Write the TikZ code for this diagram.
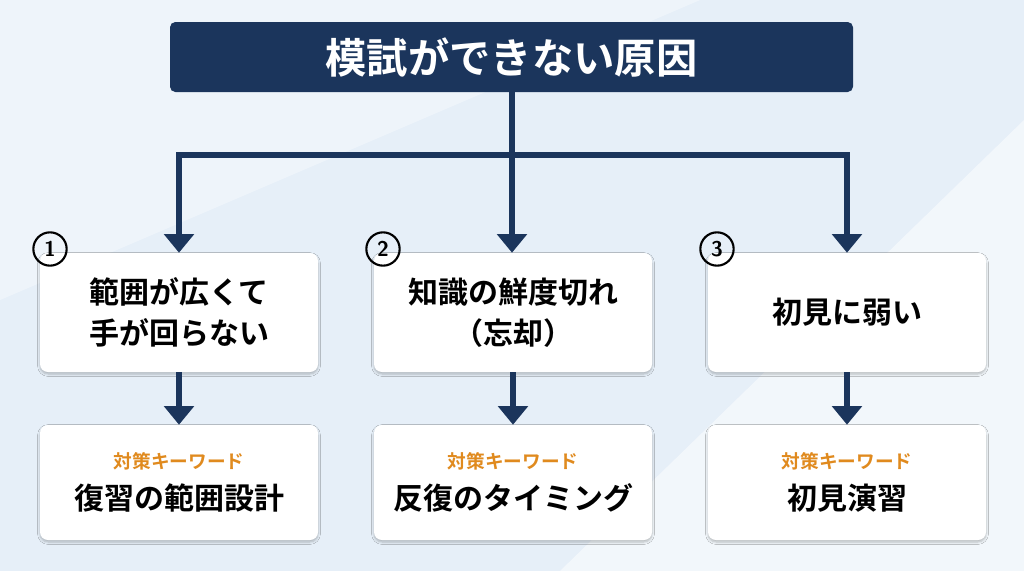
\documentclass[tikz,border=0pt]{standalone}
\usepackage{fontspec}
\newfontfamily\cjk{Noto Sans CJK JP}[BoldFont={Noto Sans CJK JP Bold}]
\usetikzlibrary{arrows.meta,shadows.blur}
\definecolor{navy}{HTML}{1B355C}
\definecolor{kw}{HTML}{E08A1E}
\definecolor{bg}{HTML}{E6EFF8}
\begin{document}
\begin{tikzpicture}[x=0.75pt,y=-0.75pt,
  box/.style={draw=none,fill=white,rounded corners=6pt,minimum width=278*0.75pt,blur shadow={shadow blur steps=5,shadow xshift=0pt,shadow yshift=-1.5pt,shadow opacity=25},align=center,font=\cjk\bfseries\fontsize{22.5}{31}\selectfont,text=black},
  con/.style={navy,line width=5pt},
  arr/.style={navy,line width=5pt,-{Triangle[length=14pt,width=22pt]}},
  num/.style={circle,draw=black,line width=1.6pt,inner sep=0pt,minimum size=25pt,font=\sffamily\bfseries\fontsize{16}{16}\selectfont}]
\useasboundingbox (0,0) rectangle (1024,571);
\fill[bg] (0,0) rectangle (1024,571);
\fill[white,opacity=0.5] (560,571) -- (1024,120) -- (1024,571) -- cycle;
\fill[white,opacity=0.35] (0,0) -- (700,0) -- (0,300) -- cycle;
\node[fill=navy,rounded corners=4pt,minimum width=683*0.75pt,minimum height=70*0.75pt,text=white,font=\cjk\bfseries\fontsize{31}{33}\selectfont] (t) at (511.5,57) {模試ができない原因};
\node[box,minimum height=119*0.75pt] (a1) at (179,312.5) {範囲が広くて\\手が回らない};
\node[box,minimum height=119*0.75pt] (a2) at (513,312.5) {知識の鮮度切れ\\（忘却）};
\node[box,minimum height=119*0.75pt] (a3) at (847,312.5) {初見に弱い};
\node[box,minimum height=115*0.75pt] (b1) at (179,482.5) {{\color{kw}\fontsize{14}{18}\selectfont 対策キーワード}\\復習の範囲設計};
\node[box,minimum height=115*0.75pt] (b2) at (513,482.5) {{\color{kw}\fontsize{14}{18}\selectfont 対策キーワード}\\反復のタイミング};
\node[box,minimum height=115*0.75pt] (b3) at (847,482.5) {{\color{kw}\fontsize{14}{18}\selectfont 対策キーワード}\\初見演習};
\coordinate (j) at (512,155);
\coordinate (l) at (179,155);
\coordinate (r) at (847,155);
\draw[con] (t.south -| j) -- (j);
\draw[con,line cap=rect] (l) -- (r);
\draw[arr] (l) -- (a1.north);
\draw[arr] (j) -- (a2.north -| j);
\draw[arr] (r) -- (a3.north);
\draw[arr] (a1) -- (b1);
\draw[arr] (a2) -- (b2);
\draw[arr] (a3) -- (b3);
\node[num] (n1) at (50,249) {1};
\node[num] (n2) at (383,249) {2};
\node[num] (n3) at (717,249) {3};
\end{tikzpicture}
\end{document}
